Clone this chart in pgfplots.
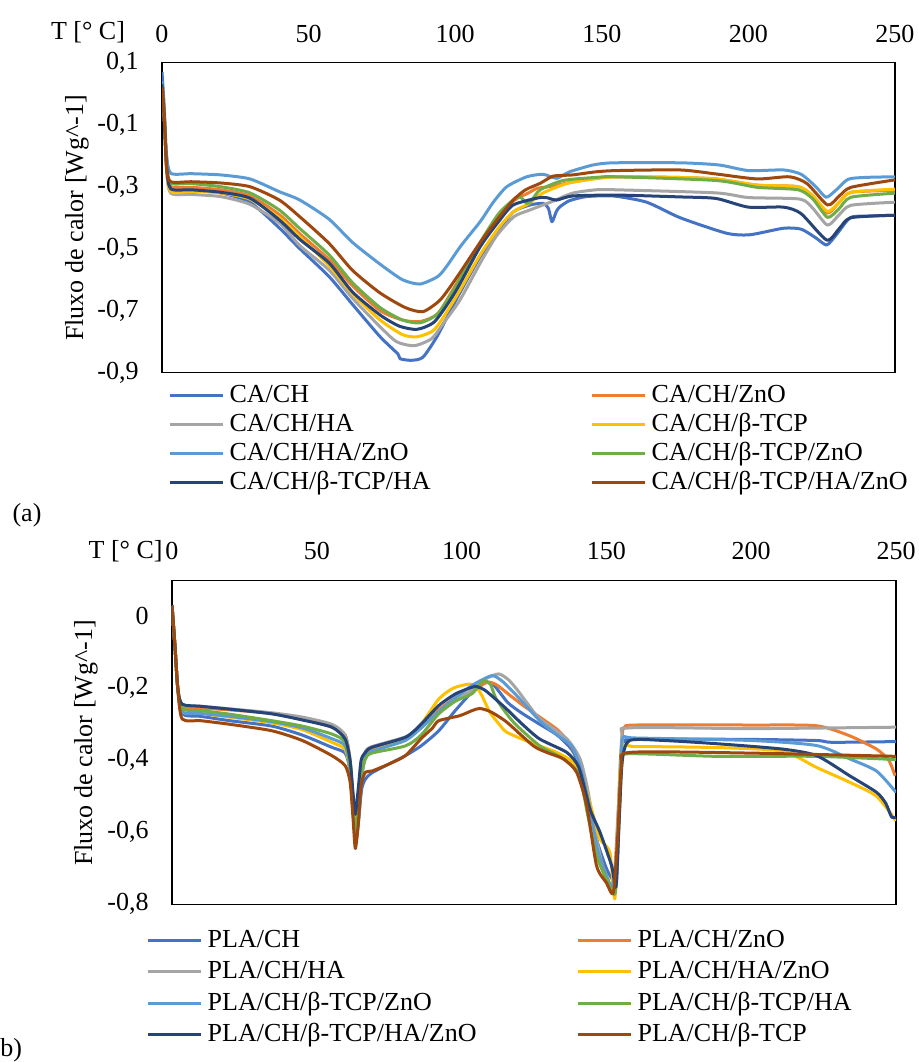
\documentclass[border=0pt]{standalone}
\usepackage{fontspec}
\setmainfont{Liberation Serif}
\usepackage{pgfplots}
\pgfplotsset{compat=1.18}
\newcommand{\fs}{\fontsize{13pt}{15.6pt}\selectfont}
\definecolor{c1}{HTML}{4472C4}
\definecolor{c2}{HTML}{ED7D31}
\definecolor{c3}{HTML}{A5A5A5}
\definecolor{c4}{HTML}{FFC000}
\definecolor{c5}{HTML}{5B9BD5}
\definecolor{c6}{HTML}{70AD47}
\definecolor{c7}{HTML}{264478}
\definecolor{c8}{HTML}{9E480E}
\pgfplotsset{
  dsc/.style={
    scale only axis, anchor=south west,
    xmin=0, xmax=250, xtick={0,50,100,150,200,250},
    xticklabel pos=upper,
    major tick length=0pt,
    axis line style={line width=0.7pt},
    tick label style={font=\fs},
    /pgf/number format/assume math mode=true,
    /pgf/number format/use comma,
    yticklabel style={font=\fs, /pgf/number format/fixed, /pgf/number format/precision=1, xshift=-8.2pt},
    xticklabel style={font=\fs, yshift=6.5pt},
    no markers,
    every axis plot/.append style={line width=1.5pt, line join=round, smooth, tension=0.4},
    legend columns=2, legend cell align=left,
    legend style={draw=none, fill=none, font=\fs, inner sep=0pt, anchor=north west,
      nodes={inner sep=0.5pt, text height=9.5pt, text depth=2.5pt},
      /tikz/every odd column/.append style={column sep=2pt}},
    legend image code/.code={\draw[#1, line width=1.5pt] (0pt,0pt) -- (26.5pt,0pt);},
  }
}
\begin{document}
\begin{tikzpicture}[font=\fs]
\path[use as bounding box] (0,0) rectangle (459.5pt,531pt);

% (a) CA/CH
\begin{axis}[dsc, at={(81pt,344.65pt)}, width=366.5pt, height=155pt,
  ymin=-0.9, ymax=0.1, ytick={-0.9,-0.7,-0.5,-0.3,-0.1,0.1},
  legend style={at={(axis description cs:0.0085,-0.029)}, row sep=1.55pt,
    /tikz/every even column/.append style={column sep=79.5pt}}]
\addplot[c1] coordinates {(0,0.07)(0.8,-0.05)(1.6,-0.22)(3,-0.30)(10,-0.31)(20,-0.32)(30,-0.35)(40,-0.433)(47,-0.50)(57,-0.59)(65,-0.68)(74.4,-0.784)(80.5,-0.84)(81.2,-0.855)(85,-0.86)(89,-0.85)(94,-0.78)(100,-0.67)(108.5,-0.526)(115,-0.44)(120,-0.38)(125.5,-0.359)(130,-0.354)(131.8,-0.37)(133,-0.413)(134.5,-0.38)(135.7,-0.365)(139,-0.345)(144.8,-0.332)(154,-0.33)(165.3,-0.35)(176.7,-0.40)(192.5,-0.45)(200.5,-0.455)(212,-0.434)(218,-0.437)(223,-0.465)(226.7,-0.488)(230,-0.455)(234.7,-0.40)(240,-0.395)(250,-0.392)};
\addlegendentry{CA/CH}
\addplot[c2] coordinates {(0,0.03)(0.8,-0.08)(1.6,-0.24)(3,-0.30)(10,-0.302)(20,-0.31)(30,-0.33)(40,-0.39)(47,-0.452)(57,-0.535)(65,-0.62)(74.4,-0.70)(82,-0.73)(88,-0.735)(94,-0.71)(100,-0.62)(108.5,-0.485)(115,-0.40)(120,-0.345)(125,-0.32)(128,-0.305)(132,-0.30)(140,-0.285)(150,-0.27)(155,-0.268)(175,-0.27)(189,-0.275)(203,-0.295)(217,-0.30)(222,-0.33)(227,-0.385)(231,-0.35)(235,-0.318)(250,-0.312)};
\addlegendentry{CA/CH/ZnO}
\addplot[c3] coordinates {(0,0.03)(0.8,-0.08)(1.6,-0.25)(3,-0.321)(10,-0.325)(20,-0.332)(30,-0.357)(40,-0.417)(47,-0.49)(57,-0.569)(65,-0.66)(74.4,-0.752)(80,-0.80)(86,-0.813)(92,-0.79)(96,-0.74)(101.6,-0.666)(108.5,-0.547)(114,-0.46)(120,-0.397)(125.5,-0.375)(133,-0.348)(140,-0.321)(148,-0.31)(155,-0.31)(189,-0.32)(200,-0.335)(217.6,-0.34)(222,-0.37)(227,-0.424)(231,-0.39)(235,-0.36)(250,-0.35)};
\addlegendentry{CA/CH/HA}
\addplot[c4] coordinates {(0,0.02)(0.8,-0.08)(1.6,-0.25)(3,-0.316)(10,-0.315)(20,-0.32)(30,-0.34)(40,-0.40)(47,-0.462)(57,-0.555)(65,-0.645)(74.4,-0.73)(82,-0.777)(87,-0.784)(93,-0.76)(100,-0.66)(108.5,-0.52)(115,-0.43)(120,-0.38)(125,-0.355)(130,-0.32)(138,-0.29)(145,-0.278)(155,-0.268)(175,-0.27)(189,-0.275)(203,-0.295)(217,-0.30)(222,-0.33)(227,-0.38)(231,-0.35)(235,-0.318)(250,-0.308)};
\addlegendentry{CA/CH/β-TCP}
\addplot[c5] coordinates {(0,0.04)(0.8,-0.08)(1.6,-0.2)(3,-0.257)(10,-0.258)(20,-0.262)(30,-0.275)(40,-0.316)(47,-0.343)(57,-0.405)(65,-0.48)(74.4,-0.55)(82,-0.60)(88,-0.614)(94,-0.59)(97,-0.558)(102,-0.49)(108.5,-0.413)(113,-0.35)(117.6,-0.30)(124.4,-0.268)(130,-0.26)(134.6,-0.273)(139,-0.252)(147,-0.23)(154,-0.223)(177,-0.223)(190,-0.23)(200,-0.248)(212,-0.246)(218,-0.26)(223,-0.30)(226.5,-0.334)(230,-0.31)(234,-0.276)(240,-0.27)(250,-0.268)};
\addlegendentry{CA/CH/HA/ZnO}
\addplot[c6] coordinates {(0,0.03)(0.8,-0.08)(1.6,-0.24)(3,-0.289)(10,-0.29)(20,-0.30)(30,-0.32)(40,-0.375)(47,-0.435)(57,-0.52)(65,-0.61)(74.4,-0.69)(82,-0.73)(88,-0.739)(94,-0.71)(100,-0.625)(108.5,-0.48)(115,-0.385)(121.5,-0.332)(124.4,-0.354)(126,-0.345)(129,-0.31)(136.8,-0.28)(148,-0.27)(155,-0.268)(189,-0.28)(203,-0.302)(217,-0.31)(222,-0.34)(227,-0.399)(231,-0.37)(235,-0.334)(250,-0.321)};
\addlegendentry{CA/CH/β-TCP/ZnO}
\addplot[c7] coordinates {(0,0.03)(0.8,-0.08)(1.6,-0.24)(3,-0.307)(10,-0.31)(20,-0.318)(30,-0.337)(40,-0.407)(47,-0.47)(57,-0.546)(65,-0.64)(74.4,-0.714)(81,-0.75)(87,-0.76)(93,-0.735)(100,-0.64)(108.5,-0.494)(115,-0.41)(119.8,-0.359)(127.8,-0.337)(131,-0.335)(134.6,-0.343)(140,-0.33)(155,-0.327)(176.7,-0.333)(189,-0.338)(200,-0.366)(212,-0.366)(218,-0.387)(226.7,-0.472)(231,-0.435)(235,-0.40)(250,-0.392)};
\addlegendentry{CA/CH/β-TCP/HA}
\addplot[c8] coordinates {(0,0.02)(0.8,-0.08)(1.6,-0.24)(3,-0.284)(10,-0.284)(20,-0.288)(30,-0.30)(40,-0.343)(47,-0.397)(57,-0.483)(65,-0.57)(74.4,-0.643)(83,-0.69)(89,-0.703)(94.8,-0.666)(100,-0.60)(108.5,-0.48)(114,-0.41)(119.8,-0.343)(124,-0.31)(129,-0.289)(133.4,-0.266)(140,-0.262)(148,-0.252)(155,-0.248)(176.7,-0.246)(189,-0.259)(203,-0.275)(214,-0.268)(220,-0.29)(227,-0.359)(231,-0.33)(235,-0.302)(250,-0.278)};
\addlegendentry{CA/CH/β-TCP/HA/ZnO}
\end{axis}

% (b) PLA/CH
\begin{axis}[dsc, at={(86pt,78.85pt)}, width=362pt, height=162pt,
  ymin=-0.8, ymax=0.1, ytick={-0.8,-0.6,-0.4,-0.2,0},
  legend style={at={(axis description cs:-0.0355,-0.070)}, row sep=2.75pt,
    /tikz/every even column/.append style={column sep=49.5pt}}]
\addplot[c1] coordinates {(0,0.03)(1,-0.08)(2,-0.2)(3.5,-0.271)(10,-0.278)(20,-0.29)(34.5,-0.305)(45,-0.33)(55.2,-0.364)(59.8,-0.38)(61.5,-0.43)(62.5,-0.53)(63.5,-0.615)(64.5,-0.56)(65.5,-0.48)(66.8,-0.452)(69,-0.435)(75,-0.41)(80.6,-0.387)(86,-0.36)(92.1,-0.318)(98,-0.26)(104,-0.207)(108,-0.185)(111,-0.19)(116,-0.24)(121,-0.27)(127,-0.30)(133,-0.33)(138,-0.37)(141,-0.42)(144,-0.52)(147,-0.63)(150,-0.70)(152,-0.73)(153.5,-0.74)(155,-0.42)(156.5,-0.35)(160,-0.341)(200,-0.342)(222.6,-0.345)(228,-0.35)(250,-0.348)};
\addlegendentry{PLA/CH}
\addplot[c2] coordinates {(0,0.03)(1,-0.08)(2,-0.2)(3.5,-0.25)(10,-0.255)(20,-0.26)(34.5,-0.27)(45,-0.285)(55.2,-0.308)(59.8,-0.33)(61.5,-0.40)(62.5,-0.52)(63.3,-0.60)(64.5,-0.52)(65.5,-0.42)(66.8,-0.38)(69,-0.37)(80.6,-0.34)(86,-0.31)(92.1,-0.26)(98,-0.225)(103.6,-0.21)(108.7,-0.183)(112,-0.19)(116,-0.215)(121.3,-0.248)(127,-0.28)(132.8,-0.313)(136,-0.34)(139.7,-0.387)(143.2,-0.48)(147.6,-0.66)(150.5,-0.73)(152.5,-0.75)(154,-0.55)(155.5,-0.33)(156.4,-0.308)(160,-0.302)(200,-0.302)(222.6,-0.304)(234,-0.332)(243.3,-0.369)(247.5,-0.40)(249.7,-0.443)};
\addlegendentry{PLA/CH/ZnO}
\addplot[c3] coordinates {(0,0.03)(1,-0.08)(2,-0.2)(3.5,-0.245)(10,-0.25)(20,-0.257)(34.5,-0.268)(45,-0.28)(55.2,-0.30)(59.8,-0.33)(61.5,-0.40)(62.5,-0.50)(63.3,-0.585)(64.5,-0.50)(65.5,-0.41)(66.8,-0.375)(69,-0.362)(80.6,-0.335)(86,-0.31)(92.1,-0.265)(98,-0.23)(103.6,-0.205)(108,-0.175)(112.7,-0.16)(116,-0.175)(119,-0.202)(123,-0.245)(127,-0.285)(136.3,-0.34)(140.9,-0.396)(143.5,-0.48)(146.6,-0.62)(150,-0.74)(151.9,-0.75)(153.5,-0.65)(155.3,-0.34)(158.1,-0.31)(200,-0.312)(250,-0.308)};
\addlegendentry{PLA/CH/HA}
\addplot[c4] coordinates {(0,0.03)(1,-0.08)(2,-0.2)(3.5,-0.265)(10,-0.27)(20,-0.28)(34.5,-0.296)(45,-0.315)(55.2,-0.35)(59.8,-0.37)(61.5,-0.43)(62.5,-0.53)(63.3,-0.60)(64.5,-0.52)(65.5,-0.43)(66.8,-0.39)(69,-0.375)(80.6,-0.34)(86,-0.30)(92.1,-0.23)(97,-0.20)(102.6,-0.188)(105,-0.195)(107,-0.22)(109.8,-0.267)(113,-0.30)(115.6,-0.322)(123.6,-0.35)(132.8,-0.378)(138.6,-0.406)(142,-0.452)(145.5,-0.554)(147.8,-0.619)(151.2,-0.656)(152.9,-0.785)(154,-0.6)(155.2,-0.369)(160,-0.362)(190,-0.365)(211,-0.375)(222.6,-0.42)(234,-0.461)(243.3,-0.50)(250,-0.568)};
\addlegendentry{PLA/CH/HA/ZnO}
\addplot[c5] coordinates {(0,0.03)(1,-0.08)(2,-0.2)(3.5,-0.266)(10,-0.27)(20,-0.278)(34.5,-0.293)(45,-0.31)(55.2,-0.34)(59.8,-0.36)(61.5,-0.43)(62.5,-0.54)(63.5,-0.625)(64.5,-0.56)(65.5,-0.45)(66.8,-0.39)(69,-0.375)(80.6,-0.345)(86,-0.31)(92.1,-0.265)(98,-0.225)(104,-0.19)(110.4,-0.165)(114,-0.18)(119,-0.22)(127,-0.29)(133,-0.33)(138,-0.36)(141,-0.42)(144,-0.52)(147,-0.65)(150,-0.72)(152,-0.75)(153.5,-0.68)(155,-0.40)(155.8,-0.336)(160,-0.338)(200,-0.345)(222.6,-0.359)(234,-0.396)(243.3,-0.43)(250,-0.489)};
\addlegendentry{PLA/CH/β-TCP/ZnO}
\addplot[c6] coordinates {(0,0.03)(1,-0.08)(2,-0.2)(3.5,-0.257)(10,-0.262)(20,-0.272)(34.5,-0.29)(45,-0.305)(55.2,-0.327)(59.8,-0.35)(61.5,-0.42)(62.5,-0.52)(63.3,-0.595)(64.5,-0.53)(65.5,-0.44)(66.8,-0.396)(69,-0.38)(80.6,-0.36)(86,-0.33)(92.1,-0.271)(98,-0.235)(103.6,-0.215)(107.5,-0.179)(110,-0.19)(112,-0.23)(117.9,-0.294)(127,-0.36)(135,-0.395)(140.6,-0.44)(143.5,-0.55)(146.6,-0.665)(150,-0.73)(153,-0.77)(154.2,-0.60)(155.3,-0.41)(157,-0.382)(188,-0.389)(222.6,-0.389)(250,-0.398)};
\addlegendentry{PLA/CH/β-TCP/HA}
\addplot[c7] coordinates {(0,0.03)(1,-0.08)(2,-0.2)(3.5,-0.244)(10,-0.25)(20,-0.258)(34.5,-0.271)(45,-0.288)(55.2,-0.308)(59.8,-0.341)(61.5,-0.40)(62.5,-0.49)(63.3,-0.55)(64.3,-0.48)(65.3,-0.40)(66.8,-0.378)(69,-0.364)(80.6,-0.336)(86,-0.30)(92.1,-0.248)(98,-0.215)(103.6,-0.197)(105.2,-0.195)(108,-0.205)(111,-0.225)(115.6,-0.258)(121,-0.30)(127,-0.341)(136.3,-0.378)(140.5,-0.42)(144.3,-0.535)(147.8,-0.60)(151.8,-0.693)(153.3,-0.75)(154.5,-0.55)(155.5,-0.40)(158,-0.345)(170,-0.345)(190,-0.355)(211,-0.369)(222.6,-0.387)(234,-0.443)(243.3,-0.489)(246.5,-0.52)(248.5,-0.558)(250,-0.558)};
\addlegendentry{PLA/CH/β-TCP/HA/ZnO}
\addplot[c8] coordinates {(0,0.03)(1,-0.08)(2,-0.2)(3.5,-0.285)(10,-0.29)(20,-0.30)(34.5,-0.318)(45,-0.345)(55.2,-0.387)(59.8,-0.415)(61.5,-0.46)(62.5,-0.56)(63.3,-0.645)(64.3,-0.58)(65.3,-0.47)(66.8,-0.433)(69,-0.43)(75,-0.41)(80.6,-0.387)(86,-0.34)(90,-0.31)(92.1,-0.29)(99.4,-0.276)(103.6,-0.262)(106.3,-0.256)(110,-0.265)(115.6,-0.294)(124.8,-0.36)(130,-0.38)(135.1,-0.396)(139.7,-0.433)(143.2,-0.526)(146.6,-0.693)(150,-0.74)(152.4,-0.767)(154,-0.60)(155.2,-0.415)(158.1,-0.378)(200,-0.38)(250,-0.389)};
\addlegendentry{PLA/CH/β-TCP}
\end{axis}

\node at (44pt,515pt) {T [° C]};
\node at (62.8pt,255.2pt) {T [° C]};
\node[rotate=90] at (38.5pt,422pt) {Fluxo de calor [Wg\textasciicircum-1]};
\node[rotate=90] at (43pt,159.5pt) {Fluxo de calor [Wg\textasciicircum-1]};
\node at (13.5pt,273.5pt) {(a)};
\node[anchor=west, inner sep=0pt] at (0pt,6pt) {b)};
\end{tikzpicture}
\end{document}
